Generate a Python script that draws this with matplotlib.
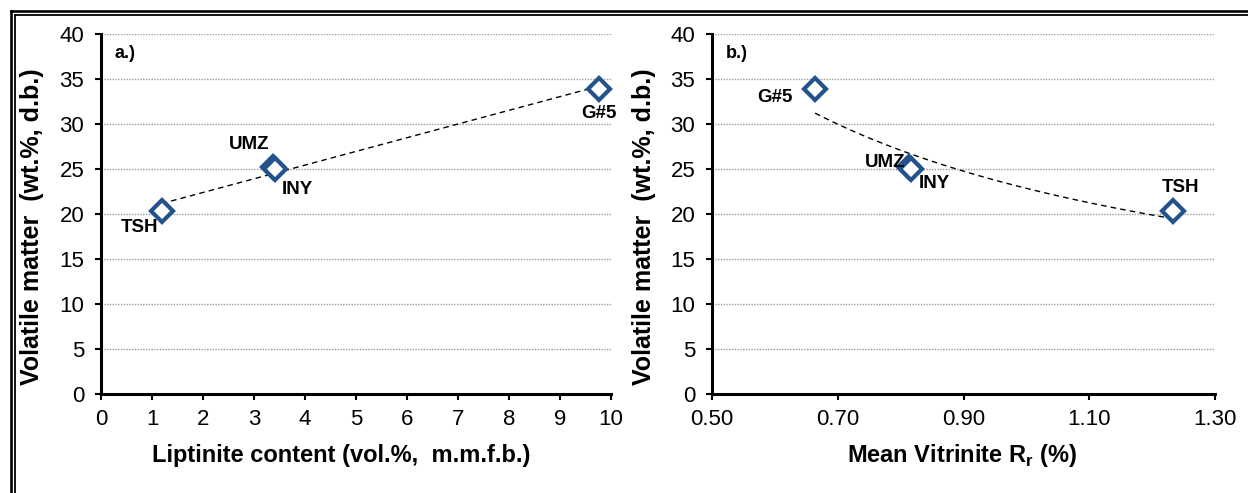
import numpy as np
import matplotlib
matplotlib.use("Agg")
import matplotlib.pyplot as plt
from matplotlib.lines import Line2D

plt.rcParams['font.family'] = ['Liberation Sans', 'DejaVu Sans']
plt.rcParams['mathtext.fontset'] = 'custom'
plt.rcParams['mathtext.rm'] = 'Liberation Sans:bold'

# ---- data ----
samples = ["TSH", "UMZ", "INY", "G#5"]
liptinite = [1.19, 3.38, 3.42, 9.76]
vitrinite_rr = [1.233, 0.813, 0.817, 0.664]
volatile_matter = [20.3, 25.2, 25.0, 33.9]

yticks = [0, 5, 10, 15, 20, 25, 30, 35, 40]
xticks_a = [0, 1, 2, 3, 4, 5, 6, 7, 8, 9, 10]
xticks_b = [0.50, 0.70, 0.90, 1.10, 1.30]

# label offsets in pixels (dx, dy)
offsets_a = {"TSH": (-22, -16), "UMZ": (-24, 23), "INY": (22, -21), "G#5": (0, -25)}
offsets_b = {"TSH": (8, 24), "UMZ": (-24, 5), "INY": (23, -15), "G#5": (-40, -9)}

W, H = 1248, 493
fig = plt.figure(figsize=(W / 100, H / 100), dpi=100)

def fx(px):
    return px / W

def fy(py):
    return 1 - py / H

top, bot = 34, 394
ax1 = fig.add_axes([fx(101), fy(bot), fx(611 - 101), (bot - top) / H])
ax2 = fig.add_axes([fx(712), fy(bot), fx(1215 - 712), (bot - top) / H])

mcol = '#24528c'

def style(ax, xticks, xlabel, xfmt, xlabel_x, panel):
    for s in ['top', 'right']:
        ax.spines[s].set_visible(False)
    for s in ['left', 'bottom']:
        ax.spines[s].set_linewidth(2.2)
        ax.spines[s].set_color('black')
    ax.set_ylim(0, 40)
    ax.set_xlim(xticks[0], xticks[-1])
    ax.set_yticks(yticks)
    ax.set_xticks(xticks)
    ax.set_xticklabels([xfmt.format(v) for v in xticks])
    ax.tick_params(axis='both', direction='out', length=4, width=1.5,
                   labelsize=16, colors='black')
    ax.tick_params(axis='x', pad=7)
    ax.tick_params(axis='y', pad=8)
    for y in yticks[1:]:
        ax.axhline(y, color='#9a9a9a', lw=1.0, ls=(0, (1, 1)), zorder=0)
    ax.set_ylabel('Volatile matter  (wt.%, d.b.)', fontsize=18, fontweight='bold')
    ax.yaxis.set_label_coords(-0.112, 0.464)
    ax.set_xlabel(xlabel, fontsize=17, fontweight='bold')
    ax.xaxis.set_label_coords(xlabel_x, -0.172)
    ax.xaxis.label.set_va('center')
    ax.text(0.027, 0.947, panel, transform=ax.transAxes, fontsize=13,
            fontweight='bold', va='center', ha='left')

style(ax1, xticks_a, 'Liptinite content (vol.%,  m.m.f.b.)', '{:g}', 0.47, 'a.)')
style(ax2, xticks_b, 'Mean Vitrinite R$_\\mathregular{r}$ (%)', '{:.2f}', 0.497, 'b.)')

x1 = np.array(liptinite)
x2 = np.array(vitrinite_rr)
yv = np.array(volatile_matter)

# linear trendline (a)
c = np.polyfit(x1, yv, 1)
xs = np.linspace(x1.min(), x1.max(), 50)
ax1.plot(xs, np.polyval(c, xs), color='black', lw=1.0, ls=(0, (4, 3)), zorder=2)

# power trendline (b)
cp = np.polyfit(np.log(x2), np.log(yv), 1)
xs2 = np.linspace(x2.min(), x2.max(), 100)
ax2.plot(xs2, np.exp(np.polyval(cp, np.log(xs2))), color='black', lw=1.0,
         ls=(0, (4, 3)), zorder=2)

for ax, xv, offs in [(ax1, x1, offsets_a), (ax2, x2, offsets_b)]:
    ax.plot(xv, yv, ls='none', marker='D', ms=11.5, mfc='white', mec=mcol,
            mew=3.0, zorder=3, clip_on=False)
    for name, xx, yy in zip(samples, xv, yv):
        dx, dy = offs[name]
        ax.annotate(name, (xx, yy), xytext=(dx, dy), textcoords='offset pixels',
                    ha='center', va='center', fontsize=13.5, fontweight='bold',
                    zorder=4)

# double frame around the figure (extends past right/bottom edges)
for off, lw in [(11, 2.6), (15, 1.8)]:
    fig.add_artist(Line2D([fx(off), fx(off)], [fy(off), fy(H + 10)],
                          color='black', lw=lw * 0.72, transform=fig.transFigure))
    fig.add_artist(Line2D([fx(off), fx(W + 10)], [fy(off), fy(off)],
                          color='black', lw=lw * 0.72, transform=fig.transFigure))

fig.savefig('out.png', dpi=100)
